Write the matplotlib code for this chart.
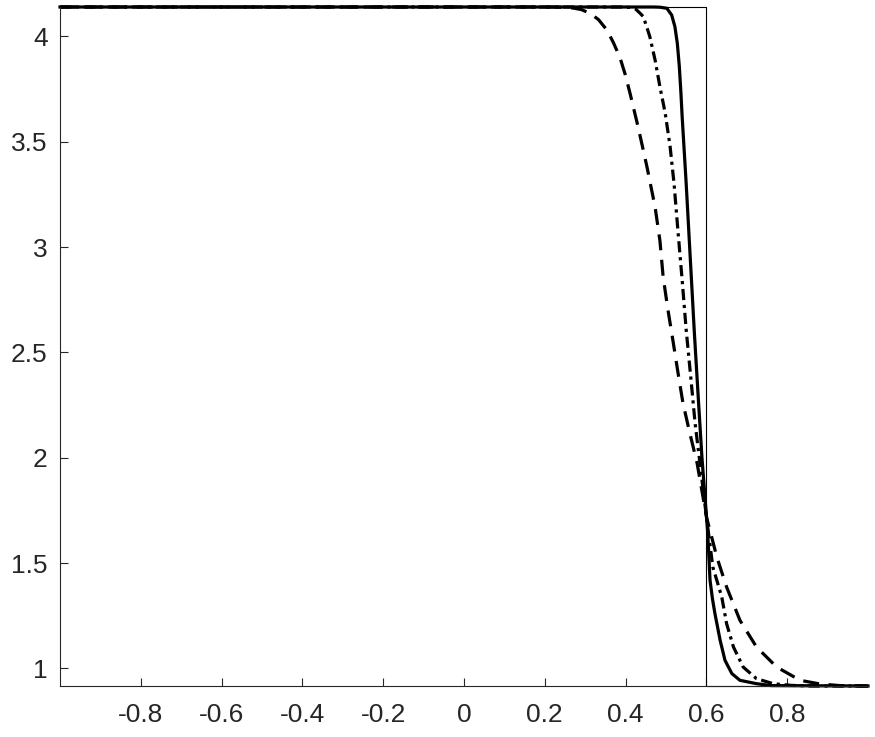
import numpy as np
import matplotlib
matplotlib.use('Agg')
import matplotlib.pyplot as plt

plt.rcParams['font.family'] = ['Liberation Sans', 'DejaVu Sans']
plt.rcParams['axes.unicode_minus'] = False

# Estados izquierdo / derecho y posición del salto
rho_izq = 4.14
rho_der = 0.916
x_salto = 0.6

# Curvas (x, y)
x_solida = [-1.0, 0.47, 0.485, 0.502, 0.514, 0.522, 0.528, 0.533, 0.537, 0.540,
            0.550, 0.560, 0.570, 0.580, 0.589, 0.597, 0.603, 0.609, 0.615, 0.621,
            0.634, 0.646, 0.663, 0.683, 0.724, 0.76, 1.0]
y_solida = [4.14, 4.14, 4.139, 4.134, 4.102, 4.047, 3.968, 3.857, 3.730, 3.619,
            3.30, 2.95, 2.60, 2.28, 2.00, 1.80, 1.65, 1.418, 1.33, 1.261,
            1.133, 1.038, 0.975, 0.943, 0.927, 0.918, 0.916]

x_punto_raya = [-1.0, 0.39, 0.41, 0.425, 0.436, 0.444, 0.460, 0.473, 0.485, 0.498,
                0.510, 0.520, 0.530, 0.540, 0.550, 0.562, 0.572, 0.584, 0.600, 0.616,
                0.627, 0.638, 0.650, 0.667, 0.691, 0.724, 0.765, 0.81, 0.86, 1.0]
y_punto_raya = [4.14, 4.14, 4.138, 4.13, 4.11, 4.094, 3.999, 3.888, 3.761, 3.636,
                3.48, 3.30, 3.067, 2.843, 2.606, 2.368, 2.164, 1.974, 1.72, 1.48,
                1.41, 1.339, 1.212, 1.101, 1.006, 0.951, 0.927, 0.919, 0.916, 0.916]

x_discontinua = [-1.0, 0.22, 0.25, 0.27, 0.29, 0.312, 0.333, 0.354, 0.37, 0.386,
                 0.399, 0.411, 0.431, 0.453, 0.473, 0.485, 0.493, 0.505, 0.517, 0.530,
                 0.542, 0.559, 0.577, 0.600, 0.626, 0.650, 0.683, 0.724, 0.774, 0.832,
                 0.88, 0.93, 1.0]
y_discontinua = [4.14, 4.14, 4.138, 4.135, 4.128, 4.11, 4.08, 4.03, 3.97, 3.90,
                 3.82, 3.73, 3.57, 3.38, 3.19, 3.03, 2.857, 2.70, 2.558, 2.40,
                 2.259, 2.116, 1.974, 1.72, 1.527, 1.386, 1.228, 1.101, 1.006, 0.943,
                 0.926, 0.918, 0.916]

ticks_x = [-0.8, -0.6, -0.4, -0.2, 0, 0.2, 0.4, 0.6, 0.8]
ticks_y = [1, 1.5, 2, 2.5, 3, 3.5, 4]

fig = plt.figure(figsize=(8.75, 7.37), dpi=100)
ax = fig.add_axes([60/875, 1 - 686/737, 808/875, 679/737])

# Solución exacta (escalón)
ax.plot([-1, x_salto, x_salto, 1], [rho_izq, rho_izq, rho_der, rho_der],
        color='black', lw=0.8, clip_on=False)

ax.plot(x_solida, y_solida, color='black', lw=2.3, clip_on=False)
ax.plot(x_punto_raya, y_punto_raya, color='black', lw=2.3, clip_on=False,
        dashes=(3.5, 1.5, 1.0, 1.5))
ax.plot(x_discontinua, y_discontinua, color='black', lw=2.3, clip_on=False,
        dashes=(5, 3))

ax.set_xlim(-1, 1)
ax.set_ylim(rho_der, rho_izq)
ax.set_xticks(ticks_x)
ax.set_xticklabels(['%g' % t for t in ticks_x])
ax.set_yticks(ticks_y)
ax.set_yticklabels(['%g' % t for t in ticks_y])

for lado in ['top', 'right']:
    ax.spines[lado].set_visible(False)
for lado in ['left', 'bottom']:
    ax.spines[lado].set_color('#262626')
    ax.spines[lado].set_linewidth(0.8)
ax.tick_params(direction='in', length=6, width=0.8, colors='#262626',
               labelsize=19)
ax.tick_params(axis='x', pad=12)
ax.tick_params(axis='y', pad=9)

fig.savefig('out.png', dpi=100)
